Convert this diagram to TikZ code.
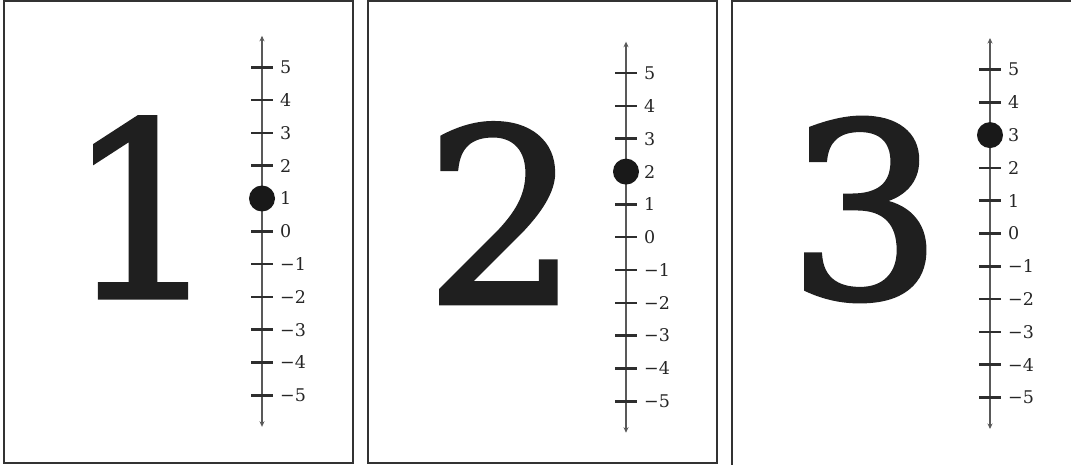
\documentclass[tikz,border=0pt]{standalone}
\usepackage{fontspec}
\setmainfont{DejaVu Serif}
\newfontfamily\bignumfont{DejaVu Serif}[FakeBold=2]
\usetikzlibrary{arrows.meta,positioning}

\tikzset{
  frame/.style={draw=black!80, line width=2pt},
  axis/.style={draw=black!65, line width=1.6pt,
    {Stealth[length=5.5pt,width=5pt]}-{Stealth[length=5.5pt,width=5pt]}},
  tickmark/.style={draw=black!82, line width=2.6pt},
  bignum/.style={font=\fontsize{242}{242}\bignumfont, text=black!88, inner sep=0pt},
  ticklabel/.style={font=\fontsize{17.5}{17.5}\selectfont, text=black!85, anchor=west, inner sep=0pt},
  dot/.style={circle, fill=black!90, minimum size=26pt, inner sep=0pt}
}

\begin{document}
\begin{tikzpicture}[x=1pt,y=-1pt]
\useasboundingbox (0,0) rectangle (1071,465);

% panel frames
\draw[frame] (4,1.5) rectangle (352.5,462.5);
\draw[frame] (367.5,1) rectangle (716.5,463);
\draw[frame] (1072,1.5) -| (732,466);

\foreach \p/\l/\z/\v/\dx in {1/4/231.3/1/139, 2/368/237.2/2/134, 3/732/233.5/3/133} {
    \node[bignum] (num\p) at (\l+\dx,\z-24) {\v};
    \coordinate (top\p) at (\l+258,\z-195.5);
    \coordinate (bot\p) at (\l+258,\z+195.5);
    \draw[axis] (top\p) -- (bot\p);
    \foreach \k/\t [evaluate=\k as \yy using \z-32.8*\k] in
        {5/5, 4/4, 3/3, 2/2, 1/1, 0/0, -1/−1, -2/−2, -3/−3, -4/−4, -5/−5} {
        \draw[tickmark] (\l+247,\yy) -- (\l+269,\yy);
        \node[ticklabel] (lab\p\t) at (\l+276,\yy) {\t};
    }
    \node[dot] (dot\p) at (\l+258,\z-32.8*\v) {};
}
\end{tikzpicture}
\end{document}
